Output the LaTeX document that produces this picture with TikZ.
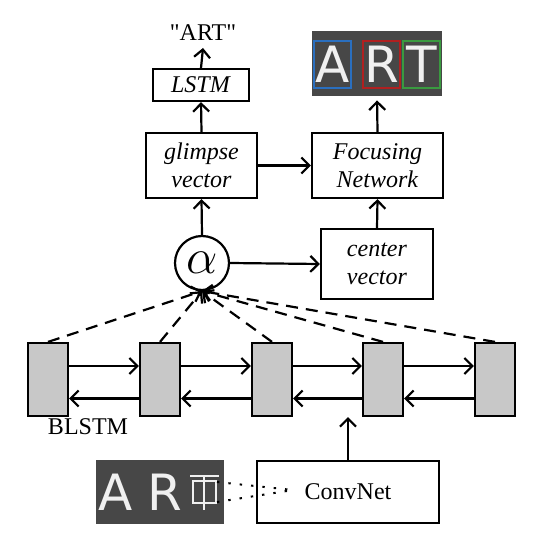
\documentclass[tikz,border=0pt]{standalone}
\usepackage{fontspec}
\setmainfont{Liberation Serif}
\newfontfamily\qfont{Liberation Serif}
\newfontfamily\imgfont{DejaVu Sans}
\usetikzlibrary{arrows.meta,calc}
\definecolor{imgbg}{HTML}{474747}
\definecolor{cellgray}{HTML}{C8C8C8}
\definecolor{boxblue}{HTML}{2A6FBF}
\definecolor{boxred}{HTML}{B02020}
\definecolor{boxgreen}{HTML}{3A9A40}
\tikzset{
  every node/.style={font=\fontsize{12}{14}\selectfont},
  blk/.style={draw, line width=1.1pt, inner sep=0pt, align=center},
  cell/.style={draw, line width=1.1pt, fill=cellgray, minimum width=20pt, minimum height=36.5pt, inner sep=0pt},
  arr/.style={line width=1.1pt, -{Straight Barb[length=4pt,width=8pt]}},
  darr/.style={arr, dashed, dash pattern=on 6pt off 4pt},
  imgletter/.style={font=\imgfont\fontsize{25}{25}\selectfont, text=white!94!black, inner sep=0pt},
}
\begin{document}
\begin{tikzpicture}[x=0.5pt,y=-0.5pt]
\useasboundingbox (0,0) rectangle (560,550);

% top
\node[font=\qfont\fontsize{12}{14}\selectfont] (out) at (203,33) {"ART"};
\node[blk, minimum width=48pt, minimum height=16pt] (lstm) at (201,85) {\textit{LSTM}};
\node[blk, minimum width=55.5pt, minimum height=32.5pt] (glimpse) at (201.5,165.5) {\textit{glimpse}\\\textit{vector}};
\node[blk, minimum width=65.5pt, minimum height=32.5pt] (focus) at (377.5,165.5) {\textit{Focusing}\\\textit{Network}};
\node[fill=imgbg, minimum width=65pt, minimum height=32.5pt, inner sep=0pt] (artimg) at (377,63.5) {};
\node[imgletter] (lA) at (332.5,64.5) {A};
\node[imgletter] (lR) at (381.5,64.5) {R};
\node[imgletter] (lT) at (421.5,64.5) {T};
\draw[boxblue, line width=0.8pt] (314,41) rectangle (351,88);
\draw[boxred, line width=0.8pt] (363,41) rectangle (400,88);
\draw[boxgreen, line width=0.8pt] (403,41) rectangle (440,88);

\node[draw, circle, line width=1.1pt, minimum size=27pt, inner sep=0pt, font=\fontsize{23}{23}\selectfont] (alpha) at (202,263) {$\alpha$};
\node[blk, minimum width=56pt, minimum height=35pt] (center) at (377,264) {\textit{center}\\\textit{vector}};

% BLSTM cells
\node[cell] (b1) at (48,379.5) {};
\node[cell] (b2) at (160,379.5) {};
\node[cell] (b3) at (272,379.5) {};
\node[cell] (b4) at (383,379.5) {};
\node[cell] (b5) at (495,379.5) {};
\node (blstm) at (88,427) {BLSTM};

% bottom
\node[blk, minimum width=91pt, minimum height=31pt] (conv) at (348,492) {ConvNet};
\node[fill=imgbg, minimum width=64pt, minimum height=32pt, inner sep=0pt] (inimg) at (160,492) {};
\node[imgletter] (iA) at (116,492) {A};
\node[imgletter] (iR) at (165,492) {R};
\draw[white!94!black, line width=1.3pt] (190,476) -- (219,476) (204,476) -- (204,510);
\draw[white!94!black, line width=1pt] (193,481) rectangle (216,503);
\coordinate (g1) at (217,482);
\coordinate (g2) at (217,502);
\coordinate (focuspt) at (293,490);
\draw[line width=1pt, dotted, dash pattern=on 1.2pt off 4.5pt] (g1) -- (focuspt);
\draw[line width=1pt, dotted, dash pattern=on 1.2pt off 4.5pt] (g2) -- (focuspt);

% connectors
\draw[arr] (lstm.north) -- (out.south);
\draw[arr] (glimpse.north) -- (lstm.south);
\draw[arr] (glimpse.east) -- (focus.west);
\draw[arr, shorten >=2pt] (focus.north) -- (artimg.south);
\draw[arr] (alpha.north) -- (glimpse.south);
\draw[arr] (alpha.east) -- (center.west);
\draw[arr] (center.north) -- (focus.south);

\foreach \a/\b in {b1/b2,b2/b3,b3/b4,b4/b5}{
  \draw[arr] ([yshift=6.75pt]\a.east) -- ([yshift=6.75pt]\b.west);
  \draw[arr] ([yshift=-9.5pt]\b.west) -- ([yshift=-9.5pt]\a.east);
}
\foreach \c in {b1,b2,b3,b4,b5}{
  \draw[darr] (\c.north) -- (alpha.south);
}
\draw[arr] (conv.north) -- (conv.north |- b4.south);
\end{tikzpicture}
\end{document}
